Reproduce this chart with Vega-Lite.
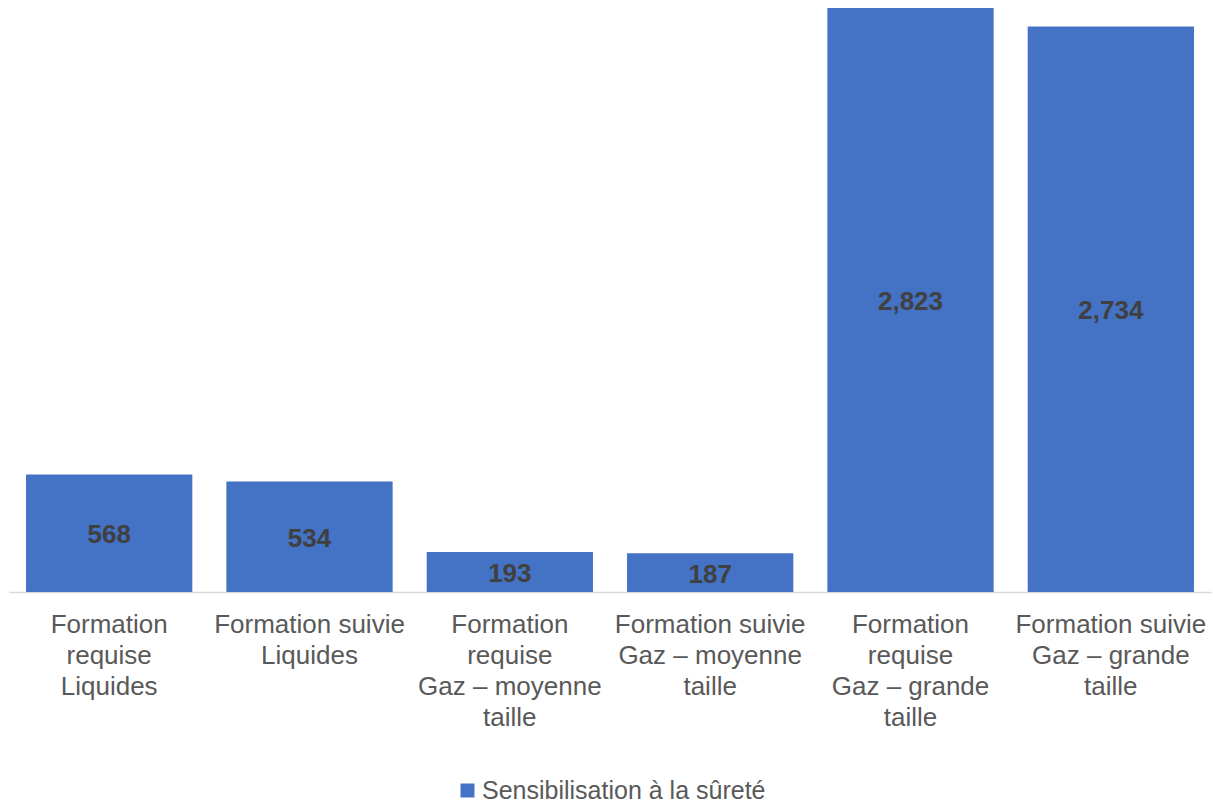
{
  "$schema": "https://vega.github.io/schema/vega-lite/v6.json",
  "autosize": {"type": "none"},
  "width": 1202,
  "height": 584,
  "padding": {"left": 9, "top": 8, "right": 2, "bottom": 209},
  "background": "white",
  "config": {
    "font": "Liberation Sans",
    "view": {"stroke": null}
  },
  "data": {
    "values": [
      {"cat": "Formation|requise|Liquides", "v": 568, "serie": "Sensibilisation à la sûreté"},
      {"cat": "Formation suivie|Liquides", "v": 534, "serie": "Sensibilisation à la sûreté"},
      {"cat": "Formation|requise|Gaz – moyenne|taille", "v": 193, "serie": "Sensibilisation à la sûreté"},
      {"cat": "Formation suivie|Gaz – moyenne|taille", "v": 187, "serie": "Sensibilisation à la sûreté"},
      {"cat": "Formation|requise|Gaz – grande|taille", "v": 2823, "serie": "Sensibilisation à la sûreté"},
      {"cat": "Formation suivie|Gaz – grande|taille", "v": 2734, "serie": "Sensibilisation à la sûreté"}
    ]
  },
  "transform": [{"calculate": "datum.v / 2", "as": "mid"}],
  "encoding": {
    "x": {
      "field": "cat",
      "type": "nominal",
      "sort": null,
      "scale": {"paddingInner": 0.17, "paddingOuter": 0.085},
      "axis": {
        "title": null,
        "labelAngle": 0,
        "labelExpr": "split(datum.label, '|')",
        "labelFontSize": 26,
        "labelLineHeight": 31,
        "labelColor": "#595959",
        "labelPadding": 19,
        "labelLimit": 300,
        "ticks": false,
        "domainColor": "#d9d9d9",
        "domainWidth": 1.5
      }
    }
  },
  "layer": [
    {
      "mark": {"type": "bar", "color": "#4472C4"},
      "encoding": {
        "y": {
          "field": "v",
          "type": "quantitative",
          "scale": {"domain": [0, 2823], "nice": false},
          "axis": null
        },
        "color": {
          "field": "serie",
          "type": "nominal",
          "scale": {"range": ["#4472C4"]},
          "legend": {
            "title": null,
            "orient": "none",
            "legendX": 446,
            "legendY": 770,
            "padding": 0,
            "symbolType": "square",
            "symbolSize": 196,
            "symbolStrokeWidth": 0,
            "labelFontSize": 25,
            "labelColor": "#595959",
            "labelOffset": 2,
            "labelLimit": 500
          }
        }
      }
    },
    {
      "mark": {"type": "text", "fontSize": 26, "fontWeight": "bold", "color": "#404040", "baseline": "middle", "dy": 2},
      "encoding": {
        "y": {"field": "mid", "type": "quantitative"},
        "text": {"field": "v", "type": "quantitative", "format": ","}
      }
    }
  ]
}
